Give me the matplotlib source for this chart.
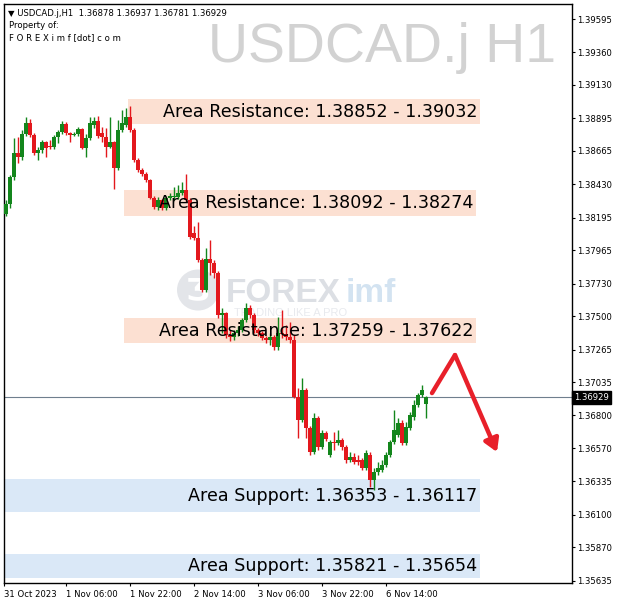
import matplotlib
matplotlib.use('Agg')
import matplotlib.pyplot as plt
import matplotlib.transforms as mtransforms
from matplotlib.patches import Rectangle, Circle
import numpy as np

# ---------------- data ----------------
opens = [1.38220, 1.38291, 1.38481, 1.38650, 1.38622, 1.38784, 1.38862, 1.38777, 1.38650, 1.38672,
         1.38728, 1.38700, 1.38693, 1.38763, 1.38798, 1.38855, 1.38791, 1.38777, 1.38784, 1.38820,
         1.38686, 1.38756, 1.38848, 1.38876, 1.38791, 1.38763, 1.38693, 1.38728, 1.38545, 1.38813,
         1.38848, 1.38904, 1.38813, 1.38601, 1.38531, 1.38502, 1.38460, 1.38333, 1.38270, 1.38319,
         1.38263, 1.38333, 1.38340, 1.38340, 1.38368, 1.38390, 1.38319, 1.38086, 1.38051, 1.37896,
         1.37685, 1.37903, 1.37875, 1.37804, 1.37508, 1.37522, 1.37367, 1.37353, 1.37381, 1.37403,
         1.37473, 1.37558, 1.37508, 1.37403, 1.37381, 1.37346, 1.37332, 1.37353, 1.37283, 1.37381,
         1.37374, 1.37353, 1.37332, 1.36930, 1.36768, 1.36980, 1.36712, 1.36542, 1.36782, 1.36578,
         1.36677, 1.36521, 1.36613, 1.36606, 1.36627, 1.36578, 1.36486, 1.36507, 1.36486, 1.36486,
         1.36430, 1.36521, 1.36345, 1.36401, 1.36415, 1.36451, 1.36521, 1.36613, 1.36662, 1.36747,
         1.36606, 1.36712, 1.36789, 1.36874, 1.36944, 1.36878]
highs = [1.38319, 1.38495, 1.38756, 1.38763, 1.38813, 1.38904, 1.38890, 1.38791, 1.38693, 1.38742,
         1.38735, 1.38742, 1.38777, 1.38813, 1.38876, 1.38869, 1.38798, 1.38798, 1.38834, 1.38827,
         1.38784, 1.38904, 1.38904, 1.38911, 1.38834, 1.38827, 1.38904, 1.38735, 1.38883, 1.38954,
         1.38968, 1.38982, 1.38827, 1.38615, 1.38545, 1.38517, 1.38467, 1.38347, 1.38340, 1.38326,
         1.38347, 1.38368, 1.38411, 1.38425, 1.38446, 1.38502, 1.38333, 1.38136, 1.38164, 1.37910,
         1.37981, 1.38037, 1.37896, 1.37818, 1.37558, 1.37530, 1.37403, 1.37403, 1.37431, 1.37487,
         1.37593, 1.37579, 1.37522, 1.37417, 1.37396, 1.37360, 1.37381, 1.37367, 1.37494, 1.37544,
         1.37438, 1.37459, 1.37367, 1.36994, 1.37064, 1.36994, 1.36726, 1.36818, 1.36796, 1.36698,
         1.36691, 1.36627, 1.36684, 1.36698, 1.36641, 1.36592, 1.36542, 1.36535, 1.36521, 1.36500,
         1.36557, 1.36542, 1.36430, 1.36472, 1.36486, 1.36542, 1.36627, 1.36839, 1.36782, 1.36768,
         1.36754, 1.36825, 1.36909, 1.36958, 1.37015, 1.36937]
lows = [1.38206, 1.38263, 1.38460, 1.38580, 1.38601, 1.38770, 1.38763, 1.38636, 1.38601, 1.38650,
        1.38622, 1.38679, 1.38679, 1.38721, 1.38784, 1.38777, 1.38728, 1.38770, 1.38770, 1.38679,
        1.38622, 1.38742, 1.38827, 1.38756, 1.38728, 1.38622, 1.38686, 1.38397, 1.38531, 1.38798,
        1.38834, 1.38798, 1.38587, 1.38517, 1.38488, 1.38446, 1.38326, 1.38256, 1.38249, 1.38249,
        1.38249, 1.38319, 1.38319, 1.38326, 1.38354, 1.38305, 1.38044, 1.38037, 1.37882, 1.37671,
        1.37671, 1.37790, 1.37769, 1.37487, 1.37381, 1.37346, 1.37325, 1.37332, 1.37360, 1.37388,
        1.37459, 1.37487, 1.37381, 1.37360, 1.37332, 1.37311, 1.37297, 1.37262, 1.37262, 1.37346,
        1.37332, 1.37311, 1.36923, 1.36641, 1.36754, 1.36641, 1.36521, 1.36528, 1.36557, 1.36564,
        1.36620, 1.36507, 1.36557, 1.36592, 1.36557, 1.36465, 1.36472, 1.36458, 1.36451, 1.36415,
        1.36415, 1.36296, 1.36274, 1.36380, 1.36401, 1.36437, 1.36507, 1.36599, 1.36648, 1.36592,
        1.36592, 1.36698, 1.36768, 1.36860, 1.36930, 1.36781]
closes = [1.38291, 1.38481, 1.38650, 1.38622, 1.38784, 1.38862, 1.38777, 1.38650, 1.38672, 1.38728,
          1.38686, 1.38693, 1.38763, 1.38798, 1.38855, 1.38791, 1.38777, 1.38784, 1.38820, 1.38686,
          1.38756, 1.38862, 1.38876, 1.38770, 1.38763, 1.38693, 1.38728, 1.38545, 1.38813, 1.38862,
          1.38904, 1.38813, 1.38601, 1.38531, 1.38502, 1.38460, 1.38333, 1.38270, 1.38319, 1.38263,
          1.38333, 1.38347, 1.38343, 1.38368, 1.38390, 1.38319, 1.38058, 1.38051, 1.37896, 1.37685,
          1.37903, 1.37875, 1.37804, 1.37508, 1.37522, 1.37367, 1.37353, 1.37381, 1.37403, 1.37473,
          1.37558, 1.37508, 1.37403, 1.37381, 1.37346, 1.37332, 1.37353, 1.37283, 1.37381, 1.37374,
          1.37353, 1.37332, 1.36930, 1.36768, 1.36980, 1.36712, 1.36542, 1.36782, 1.36578, 1.36677,
          1.36634, 1.36613, 1.36606, 1.36627, 1.36578, 1.36486, 1.36507, 1.36472, 1.36472, 1.36430,
          1.36535, 1.36345, 1.36401, 1.36430, 1.36451, 1.36521, 1.36613, 1.36698, 1.36747, 1.36606,
          1.36719, 1.36803, 1.36874, 1.36944, 1.36980, 1.36929]

ytick_values = [1.39595, 1.39360, 1.39130, 1.38895, 1.38665, 1.38430, 1.38195, 1.37965, 1.37730,
                1.37500, 1.37265, 1.37035, 1.36800, 1.36570, 1.36335, 1.36100, 1.35870, 1.35635]
xtick_bars = [-0.5, 15, 31, 47, 63, 79, 95]
xtick_labels = ['31 Oct 2023', '1 Nov 06:00', '1 Nov 22:00', '2 Nov 14:00',
                '3 Nov 06:00', '3 Nov 22:00', '6 Nov 14:00']

zone_labels = ['Area Resistance: 1.38852 - 1.39032',
               'Area Resistance: 1.38092 - 1.38274',
               'Area Resistance: 1.37259 - 1.37622',
               'Area Support: 1.36353 - 1.36117',
               'Area Support: 1.35821 - 1.35654']
zone_top = [1.39032, 1.38390, 1.37487, 1.36353, 1.35821]
zone_bottom = [1.38852, 1.38206, 1.37311, 1.36117, 1.35654]
zone_start = [30.5, 29.5, 29.5, -0.5, -0.5]
zone_end = [118.5, 117.5, 117.5, 118.5, 118.5]
zone_kind = ['res', 'res', 'res', 'sup', 'sup']

last_price = 1.36929
header = '\u25bc USDCAD.j,H1  1.36878 1.36937 1.36781 1.36929'
arrow_bars = [106.5, 112.25, 122.75]
arrow_prices = [1.36958, 1.37226, 1.36542]

# ---------------- style ----------------
GREEN = '#13861c'
RED = '#e3181d'
RES_COL = '#fce0d2'
SUP_COL = '#dae8f7'
ARROW_RED = '#e8202a'

W, H = 620, 606
fig = plt.figure(figsize=(W / 100, H / 100), dpi=100)
fig.patch.set_facecolor('white')
ax = fig.add_axes([4 / W, 1 - 583 / H, 568 / W, 579 / H])
ax.set_facecolor('white')
ax.set_xlim(-0.5, 141.5)
ax.set_ylim(1.35619, 1.39701)

# background watermarks
fig_t = fig.transFigure
ax.text(556 / W, 1 - 62 / H, 'USDCAD.j H1', transform=fig_t, ha='right', va='baseline',
        fontsize=40, family='Liberation Sans', color='#d2d2d2', zorder=0.5)
ax.add_patch(Circle((198 / W, 1 - 290 / H), 21 / W, transform=fig_t, facecolor='#e3e5e9',
                    edgecolor='none', zorder=0.6))
ax.text(198 / W, 1 - 291 / H, '\u01b7', transform=fig_t, ha='center', va='center', fontsize=22,
        fontweight='bold', color='white', zorder=0.65)
ax.text(226 / W, 1 - 294 / H, 'FOREX', transform=fig_t, ha='left', va='center', fontsize=24,
        fontweight='bold', family='Liberation Sans', color='#dcdfe4', zorder=0.6)
ax.text(346 / W, 1 - 294 / H, 'imf', transform=fig_t, ha='left', va='center', fontsize=24,
        fontweight='bold', family='Liberation Sans', color='#d3e3f1', zorder=0.6)
ax.text(234 / W, 1 - 313 / H, 'TRADING LIKE A PRO', transform=fig_t, ha='left', va='center',
        fontsize=8, family='Liberation Sans', color='#e8eaee', zorder=0.6)

# zones
for lab, top, bot, x0, x1, kind in zip(zone_labels, zone_top, zone_bottom, zone_start, zone_end, zone_kind):
    ax.add_patch(Rectangle((x0, bot), x1 - x0, top - bot,
                           facecolor=RES_COL if kind == 'res' else SUP_COL,
                           edgecolor='none', zorder=1))
    ax.text(x1 - 0.6, (top + bot) / 2, lab, ha='right', va='center', fontsize=12.6,
            family='DejaVu Sans', color='black', zorder=6)

# current price line
ax.axhline(last_price, color='#6f7f8e', lw=0.8, zorder=2)

# candles
o = np.array(opens)
c = np.array(closes)
hi = np.array(highs)
lo = np.array(lows)
x = np.arange(len(c))
cols = np.where(c >= o, GREEN, RED)
ax.vlines(x, lo, hi, colors=cols, linewidth=1.0, zorder=3)
bot = np.minimum(o, c)
hgt = np.maximum(np.abs(c - o), 0.00008)
ax.bar(x, hgt, bottom=bot, width=0.8, color=cols, linewidth=0, zorder=4)

# red arrow
ax.plot(arrow_bars[:2], arrow_prices[:2], color=ARROW_RED, lw=3.2, solid_capstyle='round', zorder=5)
ax.annotate('', xy=(arrow_bars[2], arrow_prices[2]), xytext=(arrow_bars[1], arrow_prices[1]),
            arrowprops=dict(arrowstyle='-|>,head_length=0.75,head_width=0.45', color=ARROW_RED,
                            lw=3.2, shrinkA=0, shrinkB=0), zorder=5)

# axes styling
for s in ax.spines.values():
    s.set_color('black')
    s.set_linewidth(1.0)
ax.yaxis.tick_right()
ax.set_yticks(ytick_values)
ax.set_yticklabels([f'{v:.5f}' for v in ytick_values])
ax.tick_params(axis='y', direction='out', length=2.5, width=0.8, labelsize=6.1, pad=1.5,
               colors='black')
ax.set_xticks(xtick_bars)
ax.set_xticklabels(xtick_labels, ha='left')
ax.tick_params(axis='x', direction='out', length=2.5, width=0.8, labelsize=6.1, pad=2.5,
               colors='black')

# current price tag
trans = mtransforms.blended_transform_factory(ax.transAxes, ax.transData)
ax.text(1.004, last_price, f'{last_price:.5f}', transform=trans, ha='left', va='center',
        fontsize=6.1, color='white', zorder=10, clip_on=False,
        bbox=dict(boxstyle='square,pad=0.25', facecolor='black', edgecolor='black'))

# header texts
ax.text(8 / W, 1 - 13 / H, header, transform=fig_t, ha='left', va='center', fontsize=6.1,
        family='DejaVu Sans', color='black', zorder=10)
ax.text(9 / W, 1 - 26 / H, 'Property of:', transform=fig_t, ha='left', va='center', fontsize=6.1,
        color='black', zorder=10)
ax.text(9 / W, 1 - 38 / H, 'F O R E X i m f [dot] c o m', transform=fig_t, ha='left', va='center',
        fontsize=6.1, color='black', zorder=10)

fig.savefig('out.png', dpi=100)
